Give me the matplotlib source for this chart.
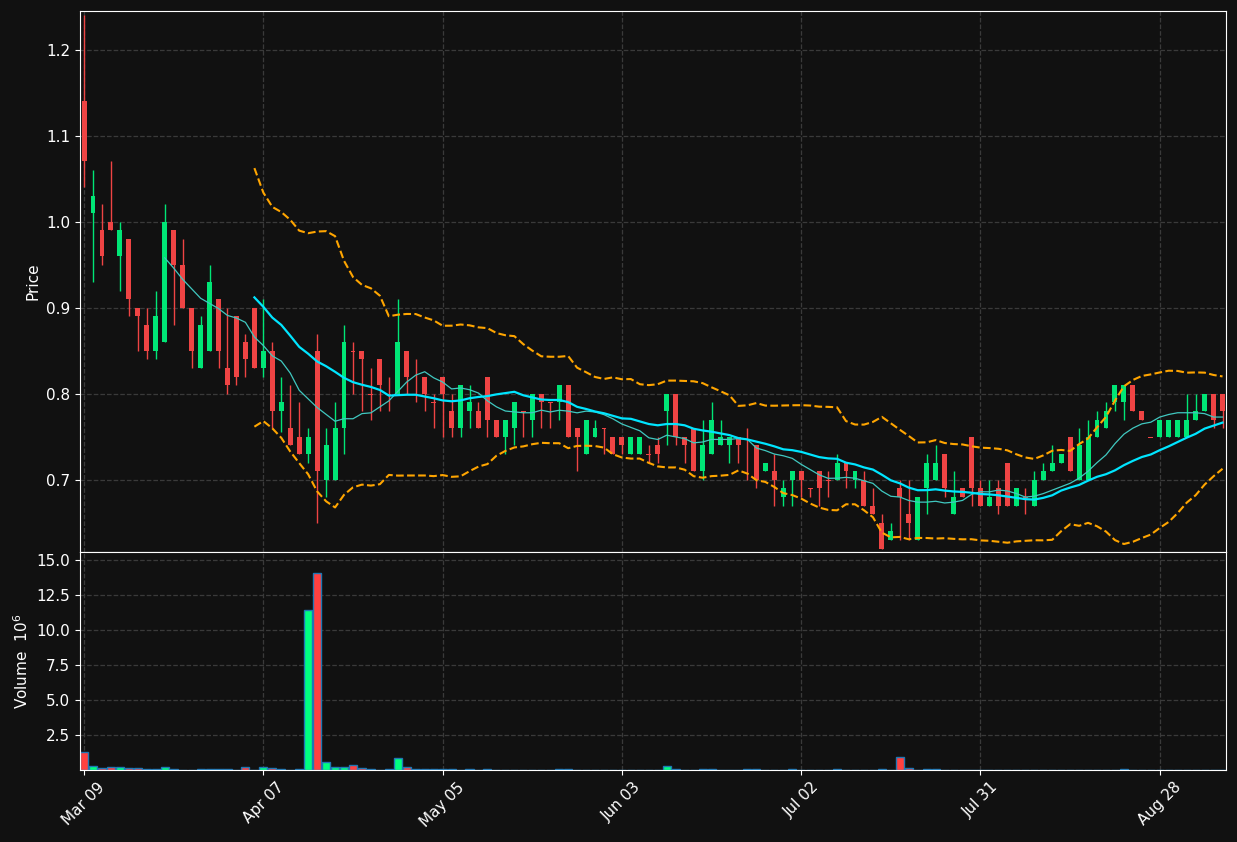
import numpy as np
import pandas as pd
import matplotlib
matplotlib.use("Agg")
import matplotlib.pyplot as plt

# daily OHLC
opens = [1.14, 1.01, 0.99, 1.00, 0.96, 0.98, 0.90, 0.88, 0.85, 0.86,
         0.99, 0.95, 0.90, 0.83, 0.85, 0.91, 0.83, 0.89, 0.86, 0.90,
         0.83, 0.85, 0.78, 0.76, 0.75, 0.73, 0.85, 0.70, 0.70, 0.76,
         0.85, 0.85, 0.80, 0.84, 0.80, 0.80, 0.85, 0.82, 0.82, 0.79,
         0.82, 0.78, 0.76, 0.78, 0.78, 0.82, 0.77, 0.75, 0.76, 0.78,
         0.77, 0.80, 0.79, 0.79, 0.81, 0.76, 0.73, 0.75, 0.76, 0.75,
         0.75, 0.73, 0.73, 0.73, 0.74, 0.78, 0.80, 0.75, 0.76, 0.71,
         0.73, 0.74, 0.74, 0.75, 0.72, 0.74, 0.71, 0.71, 0.68, 0.70,
         0.71, 0.69, 0.71, 0.70, 0.70, 0.72, 0.70, 0.70, 0.67, 0.65,
         0.63, 0.69, 0.66, 0.63, 0.69, 0.70, 0.73, 0.66, 0.69, 0.75,
         0.69, 0.67, 0.69, 0.72, 0.67, 0.68, 0.67, 0.70, 0.71, 0.72,
         0.75, 0.70, 0.70, 0.75, 0.76, 0.79, 0.79, 0.81, 0.78, 0.75,
         0.75, 0.75, 0.75, 0.75, 0.77, 0.78, 0.80, 0.80]
closes = [1.07, 1.03, 0.96, 0.99, 0.99, 0.91, 0.89, 0.85, 0.89, 1.00,
          0.95, 0.90, 0.85, 0.88, 0.93, 0.85, 0.81, 0.82, 0.84, 0.83,
          0.85, 0.78, 0.79, 0.74, 0.73, 0.75, 0.71, 0.74, 0.76, 0.86,
          0.849, 0.84, 0.799, 0.81, 0.799, 0.86, 0.82, 0.819, 0.80, 0.789,
          0.80, 0.76, 0.81, 0.79, 0.76, 0.77, 0.75, 0.77, 0.79, 0.779,
          0.80, 0.79, 0.789, 0.81, 0.75, 0.75, 0.77, 0.76, 0.759, 0.73,
          0.74, 0.75, 0.75, 0.729, 0.73, 0.80, 0.75, 0.74, 0.71, 0.74,
          0.77, 0.75, 0.75, 0.74, 0.719, 0.70, 0.72, 0.70, 0.69, 0.71,
          0.70, 0.689, 0.69, 0.699, 0.72, 0.71, 0.71, 0.67, 0.66, 0.62,
          0.64, 0.68, 0.65, 0.68, 0.72, 0.72, 0.69, 0.68, 0.68, 0.69,
          0.67, 0.68, 0.67, 0.67, 0.69, 0.679, 0.70, 0.71, 0.72, 0.73,
          0.71, 0.74, 0.75, 0.77, 0.78, 0.81, 0.81, 0.78, 0.77, 0.749,
          0.77, 0.77, 0.77, 0.77, 0.78, 0.80, 0.77, 0.78]
highs = [1.24, 1.06, 1.02, 1.07, 1.00, 0.98, 0.90, 0.90, 0.92, 1.02,
         0.99, 0.98, 0.90, 0.89, 0.95, 0.91, 0.90, 0.89, 0.87, 0.90,
         0.91, 0.86, 0.82, 0.81, 0.79, 0.76, 0.87, 0.76, 0.79, 0.88,
         0.86, 0.85, 0.83, 0.84, 0.82, 0.91, 0.85, 0.84, 0.82, 0.80,
         0.82, 0.80, 0.81, 0.81, 0.79, 0.82, 0.77, 0.77, 0.79, 0.78,
         0.80, 0.80, 0.79, 0.81, 0.81, 0.76, 0.77, 0.77, 0.76, 0.75,
         0.75, 0.75, 0.75, 0.74, 0.75, 0.80, 0.80, 0.75, 0.76, 0.77,
         0.79, 0.77, 0.75, 0.75, 0.76, 0.74, 0.72, 0.73, 0.70, 0.71,
         0.71, 0.69, 0.71, 0.71, 0.73, 0.72, 0.71, 0.71, 0.69, 0.66,
         0.65, 0.70, 0.70, 0.68, 0.73, 0.74, 0.73, 0.71, 0.69, 0.75,
         0.70, 0.70, 0.70, 0.72, 0.69, 0.69, 0.71, 0.72, 0.74, 0.73,
         0.75, 0.76, 0.77, 0.78, 0.79, 0.81, 0.81, 0.81, 0.78, 0.75,
         0.77, 0.77, 0.77, 0.80, 0.80, 0.80, 0.80, 0.80]
lows = [1.04, 0.93, 0.95, 0.99, 0.92, 0.89, 0.85, 0.84, 0.84, 0.86,
        0.88, 0.90, 0.83, 0.83, 0.85, 0.83, 0.80, 0.81, 0.82, 0.83,
        0.82, 0.76, 0.755, 0.74, 0.73, 0.72, 0.65, 0.68, 0.70, 0.73,
        0.80, 0.78, 0.77, 0.78, 0.78, 0.80, 0.80, 0.79, 0.78, 0.76,
        0.75, 0.75, 0.75, 0.76, 0.76, 0.75, 0.75, 0.73, 0.74, 0.75,
        0.75, 0.76, 0.76, 0.77, 0.75, 0.71, 0.73, 0.75, 0.73, 0.73,
        0.73, 0.73, 0.73, 0.72, 0.72, 0.74, 0.74, 0.72, 0.71, 0.70,
        0.73, 0.74, 0.72, 0.72, 0.70, 0.69, 0.71, 0.67, 0.67, 0.67,
        0.68, 0.68, 0.67, 0.68, 0.70, 0.69, 0.69, 0.67, 0.66, 0.62,
        0.63, 0.63, 0.63, 0.63, 0.66, 0.70, 0.68, 0.66, 0.68, 0.67,
        0.67, 0.67, 0.66, 0.67, 0.67, 0.66, 0.67, 0.70, 0.71, 0.72,
        0.71, 0.70, 0.70, 0.75, 0.76, 0.78, 0.77, 0.78, 0.77, 0.75,
        0.75, 0.75, 0.75, 0.75, 0.77, 0.78, 0.76, 0.76]
# volume in millions
volumes = [1.3, 0.3, 0.17, 0.25, 0.2, 0.12, 0.12, 0.05, 0.05, 0.2,
           0.05, 0.02, 0.0, 0.05, 0.05, 0.05, 0.05, 0.0, 0.2, 0.03,
           0.2, 0.12, 0.05, 0.0, 0.05, 11.4, 14.05, 0.55, 0.25, 0.25,
           0.33, 0.12, 0.05, 0.0, 0.05, 0.83, 0.2, 0.05, 0.05, 0.1,
           0.05, 0.05, 0.03, 0.05, 0.03, 0.05, 0.03, 0.03, 0.03, 0.03,
           0.03, 0.03, 0.03, 0.05, 0.08, 0.03, 0.03, 0.03, 0.03, 0.03,
           0.03, 0.03, 0.03, 0.03, 0.03, 0.3, 0.05, 0.03, 0.03, 0.1,
           0.1, 0.03, 0.03, 0.03, 0.05, 0.05, 0.03, 0.03, 0.03, 0.05,
           0.03, 0.03, 0.03, 0.03, 0.05, 0.03, 0.03, 0.03, 0.03, 0.05,
           0.03, 0.9, 0.15, 0.03, 0.05, 0.05, 0.03, 0.03, 0.03, 0.03,
           0.03, 0.03, 0.03, 0.03, 0.03, 0.03, 0.03, 0.03, 0.03, 0.03,
           0.03, 0.03, 0.03, 0.03, 0.03, 0.03, 0.05, 0.03, 0.03, 0.03,
           0.03, 0.03, 0.03, 0.03, 0.03, 0.03, 0.03, 0.03]
tick_labels = ["Mar 09", "Apr 07", "May 05", "Jun 03", "Jul 02", "Jul 31", "Aug 28"]

BG = "#111111"
UP = "#00e676"
DOWN = "#ef4444"

df = pd.DataFrame({"open": opens, "high": highs, "low": lows,
                   "close": closes, "volume": volumes})
x = np.arange(len(df))
ma10 = df["close"].rolling(10).mean()
ma20 = df["close"].rolling(20).mean()
sd20 = df["close"].rolling(20).std()

fig = plt.figure(figsize=(12.37, 8.42), dpi=100, facecolor=BG)
ax = fig.add_axes([0.0647, 0.3444, 0.9265, 0.6426], facecolor=BG)
axv = fig.add_axes([0.0647, 0.0855, 0.9265, 0.2589], facecolor=BG, sharex=ax)

up = df["close"] >= df["open"]
colors = np.where(up, UP, DOWN)
body_lo = np.minimum(df["open"], df["close"])
body_h = np.maximum((df["close"] - df["open"]).abs(), 0.001)
ax.vlines(x, df["low"], df["high"], colors=colors, linewidth=1, zorder=2)
ax.bar(x, body_h, bottom=body_lo, width=0.55, color=colors, zorder=3)

ax.plot(x, ma10, color="#40c8c0", linewidth=0.9, zorder=4)
ax.plot(x, ma20, color="#00e5ff", linewidth=1.6, zorder=4)
ax.plot(x, ma20 + 2 * sd20, color="orange", linestyle="--", linewidth=1.5, zorder=4)
ax.plot(x, ma20 - 2 * sd20, color="orange", linestyle="--", linewidth=1.5, zorder=4)

vcolors = np.where(up, "#00ff80", "#ff4040")
axv.bar(x, df["volume"], width=0.9, color=vcolors, edgecolor="#1f77b4", linewidth=1)

ax.set_xlim(-0.45, len(df) - 0.6)
ax.set_ylim(0.616, 1.245)
axv.set_ylim(0, 15.57)
ax.set_yticks([0.7, 0.8, 0.9, 1.0, 1.1, 1.2])
axv.set_yticks([2.5, 5.0, 7.5, 10.0, 12.5, 15.0])
axv.set_xticks(x[::20])
axv.set_xticklabels(tick_labels, rotation=45)
plt.setp(ax.get_xticklabels(), visible=False)
ax.set_ylabel("Price", color="white", fontsize=11)
axv.set_ylabel("Volume  $10^6$", color="white", fontsize=11)

for a in (ax, axv):
    a.grid(True, linestyle="--", color="#3a3a3a", linewidth=0.9)
    a.set_axisbelow(True)
    a.tick_params(colors="white", labelsize=11)
    for s in a.spines.values():
        s.set_color("white")

fig.savefig("out.png", dpi=100, facecolor=BG)
